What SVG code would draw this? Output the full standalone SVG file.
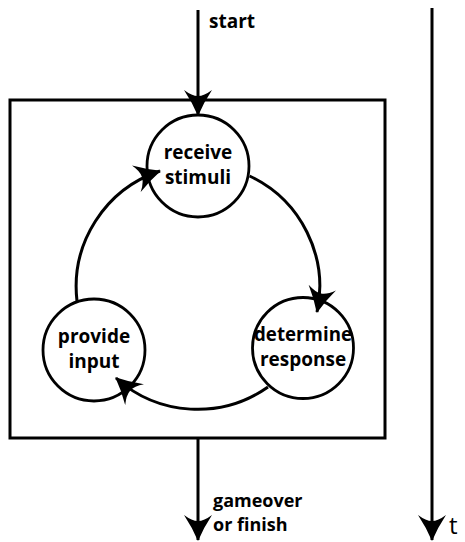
<svg xmlns="http://www.w3.org/2000/svg" width="465" height="542" viewBox="0 0 465 542">
<style>
.ln{fill:none;stroke:#000;stroke-width:3}
.nd{fill:#fff;stroke:#000;stroke-width:2.8}
.lb{font-family:"Open Sans","Liberation Sans",sans-serif;font-weight:700;font-size:19px;fill:#000}
.sm{font-size:18px}
.c{text-anchor:middle}
</style>
<defs>
<marker id="ah" viewBox="0 0 26 28" refX="25" refY="14" markerWidth="26" markerHeight="28" markerUnits="userSpaceOnUse" orient="auto">
<path d="M26,14 Q12,8 0,0 Q6,8 6,14 Q6,20 0,28 Q12,20 26,14 Z" fill="#000"/>
</marker>
</defs>
<rect x="10" y="100" width="375" height="338" class="ln"/>
<g id="receive">
<circle cx="198" cy="166" r="51" class="nd"/>
<text x="198" y="159" class="lb c">receive</text>
<text x="198" y="184" class="lb c">stimuli</text>
</g>
<g id="determine">
<circle cx="303" cy="348" r="50.5" class="nd"/>
<text x="303" y="341" class="lb c" textLength="98" lengthAdjust="spacingAndGlyphs">determine</text>
<text x="303" y="366" class="lb c">response</text>
</g>
<g id="provide">
<circle cx="94" cy="350" r="51" class="nd"/>
<text x="94" y="343" class="lb c">provide</text>
<text x="94" y="368" class="lb c">input</text>
</g>
<g id="connectors">
<line x1="198" y1="10" x2="198" y2="115" class="ln" marker-end="url(#ah)"/>
<line x1="198" y1="438" x2="198" y2="540" class="ln" marker-end="url(#ah)"/>
<line x1="432" y1="8" x2="432" y2="540" class="ln" marker-end="url(#ah)"/>
<path d="M249.6,176 A122,122 0 0 1 317,312" class="ln" marker-end="url(#ah)"/>
<path d="M268,387 A122,122 0 0 1 116,378" class="ln" marker-end="url(#ah)"/>
<path d="M77,301 A122,122 0 0 1 160,171" class="ln" marker-end="url(#ah)"/>
</g>
<g id="labels">
<text x="209" y="28" class="lb">start</text>
<text x="213" y="507" class="lb sm">gameover</text>
<text x="213" y="531" class="lb sm">or finish</text>
<text x="449" y="534" style="font-family:'Open Sans','Liberation Sans',sans-serif;font-size:24px">t</text>
</g>
</svg>
